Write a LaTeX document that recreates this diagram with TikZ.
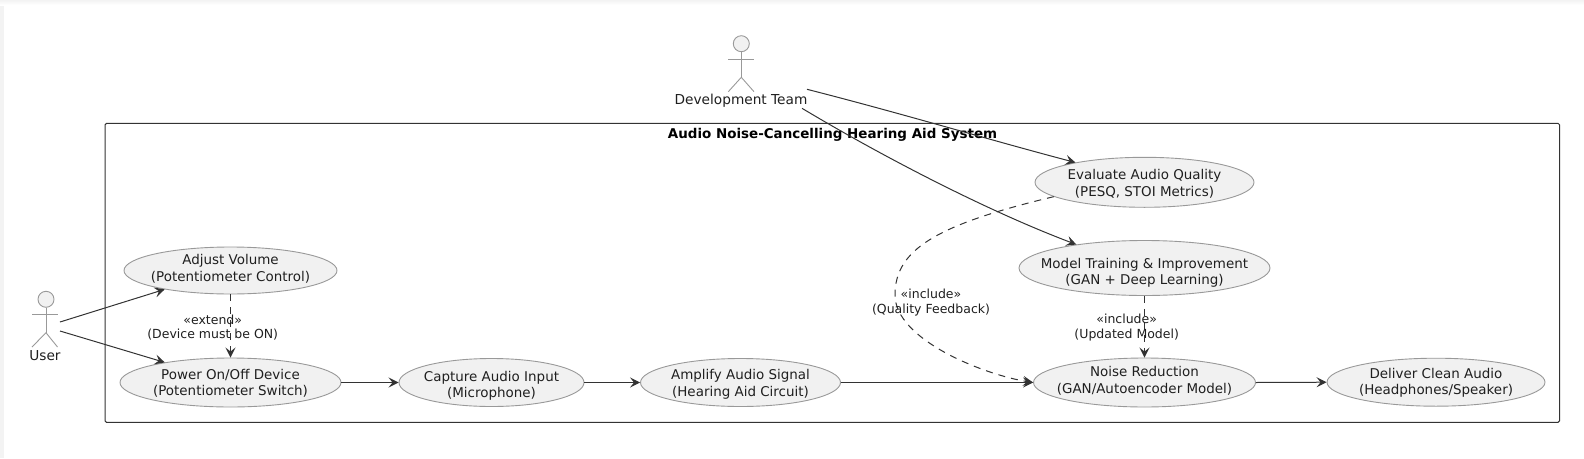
\documentclass[tikz,border=0pt]{standalone}
\usepackage{fontspec}
\setmainfont{DejaVu Sans}
\usetikzlibrary{shapes.geometric,arrows.meta}
\definecolor{inkc}{HTML}{1F1F1F}
\definecolor{edgec}{HTML}{333333}
\definecolor{outc}{HTML}{999999}
\definecolor{fillc}{HTML}{F1F1F1}
\definecolor{stripc}{HTML}{F3F3F3}
% two centred lines, moved down by #1 px from the shape's centre
\newcommand\uctxt[3]{\raisebox{\dimexpr -#1pt - 5.7pt\relax}[0pt][0pt]{\begin{tabular}{@{}c@{}}#2\\#3\end{tabular}}}
\tikzset{
  usecase/.style={ellipse,draw=outc,fill=fillc,line width=0.9pt,inner sep=-40pt,text=inkc,
    font=\fontsize{13.45}{16.4}\selectfont},
  actorline/.style={draw=outc,line width=0.9pt},
  actorhead/.style={circle,draw=outc,fill=fillc,line width=0.9pt,minimum size=16pt,inner sep=0pt},
  actorlabel/.style={text=inkc,inner sep=0pt,font=\fontsize{13.7}{16}\selectfont},
  linklabel/.style={text=inkc,inner sep=0pt,align=center,font=\fontsize{12.5}{14.6}\selectfont},
  flow/.style={draw=edgec,line width=1pt,-{Stealth[length=10pt,width=10pt,inset=4pt]}},
  dep/.style={flow,dash pattern=on 7pt off 6pt},
  sysbox/.style={draw=edgec,line width=1pt,rounded corners=1.5pt,minimum width=1454.5pt,minimum height=299pt,inner sep=0pt},
}
\begin{document}
\begin{tikzpicture}[x=1pt,y=-1pt]
\useasboundingbox (0,0) rectangle (1584,458);
\fill[stripc] (0,0) rectangle (4,458);
\shade[top color=stripc,bottom color=white] (0,0) rectangle (1584,5);

% system boundary
\node[sysbox] (sys) at (832.25,272.8) {};
\node[inner sep=0pt,text=black,font=\fontsize{13.45}{16}\selectfont\bfseries] (title) at (832.5,134.5) {Audio Noise-Cancelling Hearing Aid System};

% actors
\node[actorhead] (uhead) at (46,299.3) {};
\coordinate (uhip) at (46,332.7);
\draw[actorline] (uhead.south) -- (uhip);
\draw[actorline] (32,314.3) -- (57.5,314.3);
\draw[actorline] (32,347) -- (uhip) -- (57.5,347);
\node[actorlabel] (user) at (45,356) {User};

\node[actorhead] (dhead) at (741.3,43.7) {};
\coordinate (dhip) at (741.3,77.3);
\draw[actorline] (dhead.south) -- (dhip);
\draw[actorline] (728.3,59) -- (754,59);
\draw[actorline] (728.3,91.7) -- (dhip) -- (754,91.7);
\node[actorlabel] (dev) at (741,101) {Development Team};

% use cases
\node[usecase,minimum width=213pt,minimum height=47pt] (adj) at (230.5,270.5) {\uctxt{-3}{Adjust Volume}{(Potentiometer Control)}};
\node[usecase,minimum width=221pt,minimum height=49pt] (pow) at (230.5,382.5) {\uctxt{-0.3}{Power On/Off Device}{(Potentiometer Switch)}};
\node[usecase,minimum width=185pt,minimum height=48pt] (cap) at (491.5,382.5) {\uctxt{1.5}{Capture Audio Input}{(Microphone)}};
\node[usecase,minimum width=200pt,minimum height=48pt] (amp) at (740.5,382.5) {\uctxt{0}{Amplify Audio Signal}{(Hearing Aid Circuit)}};
\node[usecase,minimum width=222pt,minimum height=49pt] (noise) at (1144.5,382.5) {\uctxt{-3}{Noise Reduction}{(GAN/Autoencoder Model)}};
\node[usecase,minimum width=251pt,minimum height=55pt] (model) at (1144.5,268) {\uctxt{3.2}{Model Training \& Improvement}{(GAN + Deep Learning)}};
\node[usecase,minimum width=219pt,minimum height=50pt] (eval) at (1144.5,182.3) {\uctxt{0.4}{Evaluate Audio Quality}{(PESQ, STOI Metrics)}};
\node[usecase,minimum width=218pt,minimum height=48pt] (clean) at (1436,382.2) {\uctxt{-1.2}{Deliver Clean Audio}{(Headphones/Speaker)}};

% connector free ends
\coordinate (ua) at (60,322);
\coordinate (up) at (60,331);
\coordinate (de) at (807,89.3);
\coordinate (dm) at (802,108.3);

% connectors
\draw[flow] (ua) -- (adj.196);
\draw[flow] (up) -- (pow.163);
\draw[flow] (de) .. controls (900,113) and (990,140) .. (eval.164.7);
\draw[flow] (dm) .. controls (880,155) and (985,210) .. (model.161.7);
\draw[flow] (pow.east) -- (cap.west);
\draw[flow] (cap.east) -- (amp.west);
\draw[flow] (amp.east) -- (noise.west);
\draw[flow] (noise.east) -- (clean.west);
\draw[dep] (adj.south) -- (pow.north);
\draw[dep] (model.south) -- (noise.north);
\draw[dep] (eval.189.6) .. controls (935,225) and (895,250) .. (895,295)
  .. controls (895,340) and (985,375) .. (noise.west);

% labels
\node[linklabel] (lext) at (212.7,327.5) {«extend»\\(Device must be ON)};
\node[linklabel] (lupd) at (1126.7,327.8) {«include»\\(Updated Model)};
\node[linklabel] (lqua) at (931,302.8) {«include»\\(Quality Feedback)};
\end{tikzpicture}
\end{document}
